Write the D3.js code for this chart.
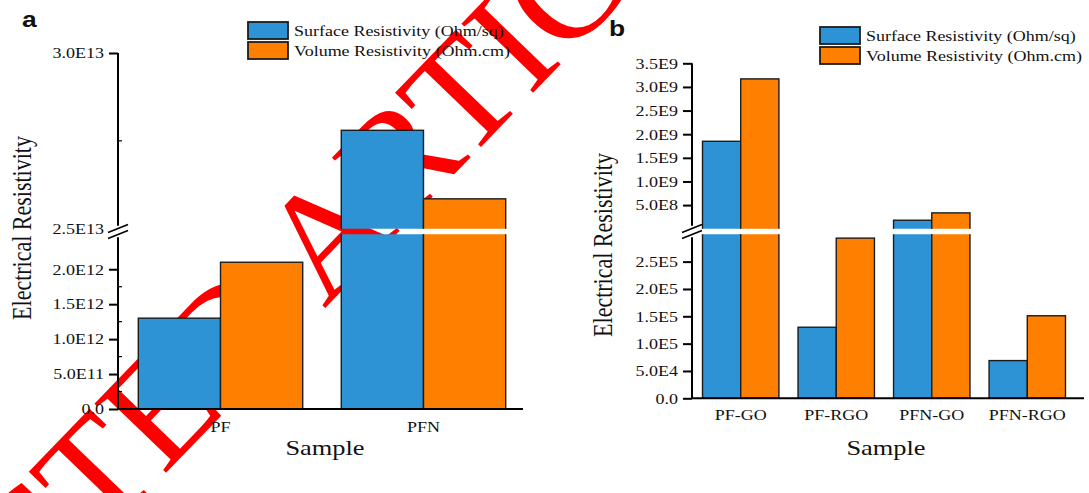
<!DOCTYPE html>
<html><head><meta charset="utf-8">
<script src="https://cdn.jsdelivr.net/npm/d3@7"></script>
<style>body{margin:0;background:#fff}svg{display:block}</style>
</head><body>
<svg id="c" width="1089" height="493"></svg>
<script>
// ---------------- data ----------------
const seriesNames = ["Surface Resistivity (Ohm/sq)", "Volume Resistivity (Ohm.cm)"];

const catsA = ["PF", "PFN"];
const surfaceA = [1.3e12, 2.78e13];
const volumeA = [2.1e12, 2.585e13];
const ticksA = [0, 5e11, 1e12, 1.5e12, 2e12, 2.5e13, 3e13];
const tickLabelsA = ["0.0", "5.0E11", "1.0E12", "1.5E12", "2.0E12", "2.5E13", "3.0E13"];
const minorTicksA = [2.5e11, 7.5e11, 1.25e12, 1.75e12, 2.75e13];
const breakA = [2.5e12, 2.5e13];

const catsB = ["PF-GO", "PF-RGO", "PFN-GO", "PFN-RGO"];
const surfaceB = [1.85e9, 1.3e5, 1.8e8, 6.9e4];
const volumeB = [3.17e9, 2.93e5, 3.35e8, 1.51e5];
const ticksB = [0, 5e4, 1e5, 1.5e5, 2e5, 2.5e5, 5e8, 1e9, 1.5e9, 2e9, 2.5e9, 3e9, 3.5e9];
const tickLabelsB = ["0.0", "5.0E4", "1.0E5", "1.5E5", "2.0E5", "2.5E5", "5.0E8", "1.0E9", "1.5E9", "2.0E9", "2.5E9", "3.0E9", "3.5E9"];
const minorTicksB = [];
const breakB = [3e5, 3.5e5];

const xTitle = "Sample";
const yTitle = "Electrical Resistivity";
const watermarkText = "RETRACTED ARTICLE";

// ---------------- style ----------------
const SX = 1.2;
const serif = "'Liberation Serif','Times New Roman',Times,serif";
const sans = "'Liberation Sans',Arial,Helvetica,sans-serif";
const BLUE = "#2d93d4", ORANGE = "#ff7f00", EDGE = "#1c1c1c";
const svg = d3.select("#c");

// watermark (bottom layer)
const wm = svg.append("text")
  .attr("font-family", serif).attr("font-size", 152).attr("fill", "#ff0000")
  .text(watermarkText);
const off = wm.node().getSubStringLength(0, 7);
wm.attr("transform", `translate(163,476) rotate(-46) translate(${-off},0)`);

function stext(parent, x, y, txt, o = {}) {
  const g = parent.append("g").attr("transform", `translate(${x},${y}) scale(${SX},1)` + (o.rot ? ` rotate(${o.rot})` : ""));
  return g.append("text")
    .attr("font-family", o.font || serif)
    .attr("font-size", o.size || 15)
    .attr("font-weight", o.weight || "normal")
    .attr("text-anchor", o.anchor || "start")
    .attr("dy", o.dy || 0)
    .attr("fill", "#111")
    .text(txt);
}

function panel(c) {
  const root = svg.append("g");
  const y = d3.scaleLinear().domain(c.yDomain).range(c.yRange);
  const gapTop = c.yRange[2], gapBot = c.yRange[1];
  const x = d3.scaleBand().domain(c.cats).range(c.xRange).paddingInner(c.pi).paddingOuter(c.po);
  const xs = d3.scaleBand().domain([0, 1]).range([0, x.bandwidth()]);
  const y0 = y(0);

  const cid = "clip" + c.id;
  const cp = svg.append("defs").append("clipPath").attr("id", cid);
  cp.append("rect").attr("x", 0).attr("y", 0).attr("width", 1089).attr("height", gapTop);
  cp.append("rect").attr("x", 0).attr("y", gapBot).attr("width", 1089).attr("height", 493 - gapBot);

  const bars = root.append("g").attr("clip-path", `url(#${cid})`);
  const series = [c.s1, c.s2];
  const colors = [BLUE, ORANGE];
  series.forEach((vals, si) => {
    bars.selectAll(null).data(vals).enter().append("rect")
      .attr("x", (d, i) => x(c.cats[i]) + xs(si))
      .attr("width", xs.bandwidth())
      .attr("y", d => y(d))
      .attr("height", d => y0 - y(d))
      .attr("fill", colors[si])
      .attr("stroke", EDGE).attr("stroke-width", 1.4);
  });

  const ax = c.axisX;
  const yAxis = d3.axisLeft(y).tickValues(c.ticks)
    .tickFormat((d, i) => c.tickLabels[i]).tickSize(9).tickPadding(0);
  const ga = root.append("g").attr("transform", `translate(${ax},0)`).call(yAxis);
  ga.select(".domain").remove();
  ga.selectAll(".tick line").attr("stroke", "#000").attr("stroke-width", 2)
    .filter(d => d === c.yDomain[2]).remove();
  ga.selectAll(".tick text")
    .attr("font-family", serif).attr("font-size", 15).attr("fill", "#111")
    .attr("x", -14 / SX).attr("transform", `scale(${SX},1)`);
  root.append("g").selectAll("line").data(c.minor).enter().append("line")
    .attr("x1", ax).attr("x2", ax + 4).attr("y1", d => y(d)).attr("y2", d => y(d))
    .attr("stroke", "#000").attr("stroke-width", 1.2);
  root.append("line").attr("x1", ax).attr("x2", ax).attr("y1", c.yRange[3]).attr("y2", gapTop - 3)
    .attr("stroke", "#000").attr("stroke-width", 2);
  root.append("line").attr("x1", ax).attr("x2", ax).attr("y1", gapBot + 3).attr("y2", y0)
    .attr("stroke", "#000").attr("stroke-width", 2);
  [-3, 3].forEach(dy => {
    root.append("line")
      .attr("x1", ax - 10).attr("y1", (gapTop + gapBot) / 2 + dy + 4)
      .attr("x2", ax + 10).attr("y2", (gapTop + gapBot) / 2 + dy - 4)
      .attr("stroke", "#000").attr("stroke-width", 1.6);
  });

  root.append("line").attr("x1", ax).attr("x2", c.xEnd).attr("y1", y0).attr("y2", y0)
    .attr("stroke", "#000").attr("stroke-width", 2);
  c.cats.forEach(cat => {
    stext(root, x(cat) + x.bandwidth() / 2, c.catY, cat, { anchor: "middle", size: 15 });
  });
  stext(root, c.sampleX, c.sampleY, xTitle, { anchor: "middle", size: 22 });
  stext(root, c.titleX, c.titleY, yTitle, { anchor: "middle", size: 22, rot: -90, dy: "0.35em" });
  seriesNames.forEach((nm, i) => {
    root.append("rect").attr("x", c.legX).attr("y", c.legY + i * 20).attr("width", 40).attr("height", 17)
      .attr("fill", colors[i]).attr("stroke", EDGE).attr("stroke-width", 1.8);
    stext(root, c.legX + 46, c.legY + i * 20 + 14, nm, { size: 15 });
  });
  stext(root, c.letX, c.letY, c.letter, { font: sans, weight: "bold", size: 22 });
}

panel({
  id: "a", cats: catsA, s1: surfaceA, s2: volumeA, ticks: ticksA, tickLabels: tickLabelsA, minor: minorTicksA,
  yDomain: [0, breakA[0], breakA[1], 3e13], yRange: [409, 234.3, 228.7, 53],
  axisX: 118, xRange: [118, 526], pi: 0.19, po: 0.1, xEnd: 523,
  catY: 432, sampleX: 325, sampleY: 455, titleX: 22, titleY: 228,
  legX: 248, legY: 22, letter: "a", letX: 22, letY: 27
});
panel({
  id: "b", cats: catsB, s1: surfaceB, s2: volumeB, ticks: ticksB, tickLabels: tickLabelsB, minor: minorTicksB,
  yDomain: [0, breakB[0], breakB[1], 3.5e9], yRange: [398.3, 234.3, 228.7, 63.3],
  axisX: 692, xRange: [692, 1076], pi: 0.2, po: 0.11, xEnd: 1084,
  catY: 420, sampleX: 886, sampleY: 455, titleX: 603, titleY: 245,
  legX: 820, legY: 27, letter: "b", letX: 609, letY: 36
});
</script>
</body></html>
